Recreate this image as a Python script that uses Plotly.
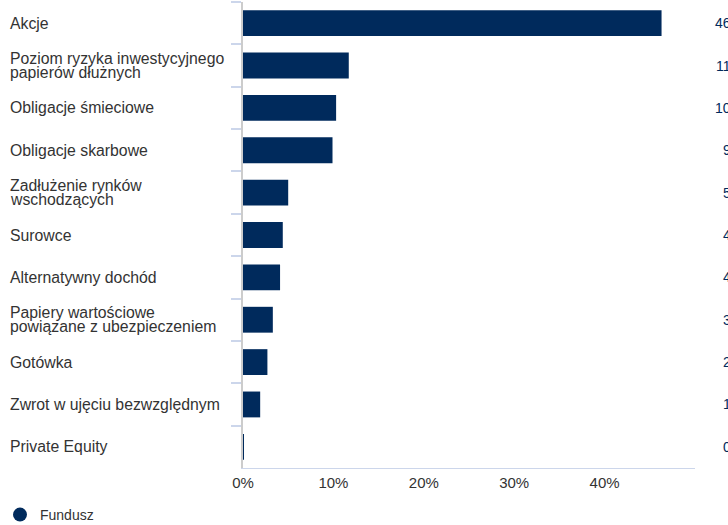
import plotly.graph_objects as go

categories = [
    "Akcje",
    "Poziom ryzyka inwestycyjnego<br>papierów dłużnych",
    "Obligacje śmieciowe",
    "Obligacje skarbowe",
    "Zadłużenie rynków<br>wschodzących",
    "Surowce",
    "Alternatywny dochód",
    "Papiery wartościowe<br>powiązane z ubezpieczeniem",
    "Gotówka",
    "Zwrot w ujęciu bezwzględnym",
    "Private Equity",
]
values = [46.3, 11.7, 10.3, 9.9, 5.0, 4.4, 4.1, 3.3, 2.7, 1.9, 0.1]
series_name = "Fundusz"
x_ticks = [0, 10, 20, 30, 40]
x_tick_labels = [f"{t}%" for t in x_ticks]

BAR = "#002A5C"
W, H = 728, 525
ML, MR, MT, MB = 243, 33, 2, 57
PW = W - ML - MR

fig = go.Figure()
fig.add_trace(go.Bar(
    x=values, y=categories, orientation="h",
    marker=dict(color=BAR, line=dict(width=0)),
    showlegend=False, hoverinfo="skip",
))
fig.add_trace(go.Scatter(
    x=[None], y=[None], mode="markers", name=series_name,
    marker=dict(symbol="circle", size=14, color=BAR),
    showlegend=True,
))

annotations = []
label_x = (8 - ML) / PW
line_gap = 14
for cat in categories:
    lines = cat.split("<br>")
    n = len(lines)
    for i, ln in enumerate(lines):
        shift = ((n - 1) / 2 - i) * line_gap
        annotations.append(dict(
            x=label_x, xref="paper", y=cat, yref="y", text=ln,
            xanchor="left", yanchor="middle", showarrow=False,
            yshift=shift, font=dict(size=15.8, color="#333333"),
        ))
value_x = (757 - ML) / PW
for cat, v in zip(categories, values):
    annotations.append(dict(
        x=value_x, xref="paper", y=cat, yref="y", text=f"{v:.1f}%",
        xanchor="right", yanchor="middle", showarrow=False,
        font=dict(size=14, color=BAR),
    ))

fig.update_layout(
    width=W, height=H,
    margin=dict(l=ML, r=MR, t=MT, b=MB, pad=0, autoexpand=False),
    paper_bgcolor="white", plot_bgcolor="white",
    font=dict(family="Liberation Sans, Arial, sans-serif", color="#333333"),
    bargap=0.39,
    showlegend=True,
    legend=dict(
        orientation="h", xref="container", yref="container",
        x=-0.005, xanchor="left",
        y=(H - 515) / H, yanchor="middle",
        font=dict(size=14, color="#333333"),
        bgcolor="rgba(0,0,0,0)",
    ),
    xaxis=dict(
        range=[0, 50], tickvals=x_ticks, ticktext=x_tick_labels,
        showgrid=False, zeroline=False,
        showline=True, linecolor="#ccd6eb", linewidth=1,
        ticks="", tickfont=dict(size=15, color="#333333"),
        ticklabelstandoff=1,
        fixedrange=True,
    ),
    yaxis=dict(
        type="category", autorange="reversed",
        showgrid=False, zeroline=False,
        showline=True, linecolor="#cccccc", linewidth=1.5,
        ticks="outside", tickson="boundaries", ticklen=10,
        tickcolor="#ccd6eb", tickwidth=1.5,
        showticklabels=False, fixedrange=True,
    ),
    annotations=annotations,
)

fig.write_html(
    "out.html",
    config={"displayModeBar": False},
    post_script="document.body.style.margin='0';document.body.style.overflow='hidden';",
)
